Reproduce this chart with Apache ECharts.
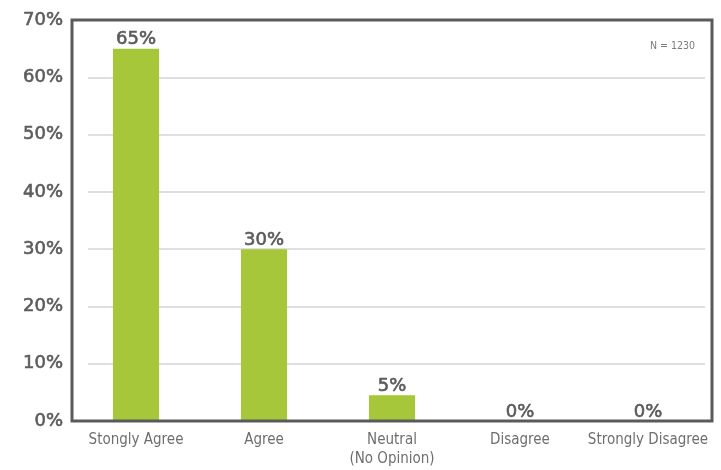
<!DOCTYPE html>
<html>
<head>
<meta charset="utf-8">
<script src="https://cdn.jsdelivr.net/npm/echarts@6/dist/echarts.min.js"></script>
<style>
html,body{margin:0;padding:0;background:#fff;}
#chart{width:721px;height:470px;}
</style>
</head>
<body>
<div id="chart"></div>
<script>
var categories = ['Stongly Agree', 'Agree', 'Neutral\n(No Opinion)', 'Disagree', 'Strongly Disagree'];
var values = [65, 30, 4.5, 0, 0];
var yTicks = [0, 10, 20, 30, 40, 50, 60, 70];
var noteText = 'N = 1230';

var FONT = '"DejaVu Sans", sans-serif';
var CFONT = '"DejaVu Sans Condensed", "DejaVu Sans", sans-serif';
var chart = echarts.init(document.getElementById('chart'));
chart.setOption({
  animation: false,
  backgroundColor: '#ffffff',
  textStyle: { fontFamily: FONT },
  title: {
    text: noteText,
    right: 21,
    top: 36,
    textStyle: { fontSize: 10.5, fontWeight: 'normal', color: '#7a7a7a', fontFamily: CFONT }
  },
  grid: [
    { left: 72, right: 9, top: 20, bottom: 49, show: true, borderColor: '#5a5a5a', borderWidth: 3, backgroundColor: 'transparent', z: 3 },
    { left: 88, right: 16, top: 20, bottom: 49, show: false }
  ],
  xAxis: [
    {
      type: 'category', gridIndex: 0, data: categories,
      axisLine: { show: false }, axisTick: { show: false },
      axisLabel: { interval: 0, color: '#6e6e6e', fontSize: 15, margin: 10, lineHeight: 19, fontFamily: CFONT }
    },
    { type: 'category', gridIndex: 1, data: categories, show: false }
  ],
  yAxis: [
    {
      type: 'value', gridIndex: 0, min: yTicks[0], max: yTicks[yTicks.length - 1], interval: 10,
      axisLine: { show: false }, axisTick: { show: false }, splitLine: { show: false },
      axisLabel: { color: '#5c5c5c', fontSize: 18, margin: 9, fontFamily: FONT,
        textBorderColor: '#5c5c5c', textBorderWidth: 0.6, formatter: '{value}%' }
    },
    {
      type: 'value', gridIndex: 1, min: yTicks[0], max: yTicks[yTicks.length - 1], interval: 10,
      axisLine: { show: false }, axisTick: { show: false }, axisLabel: { show: false },
      splitLine: { show: true, lineStyle: { color: '#d4d4d4', width: 1.5 } }
    }
  ],
  series: [
    {
      type: 'bar', xAxisIndex: 0, yAxisIndex: 0, data: values,
      barWidth: '36%', z: 2,
      itemStyle: { color: '#a5c739' },
      label: {
        show: true, position: 'top', distance: 0, color: '#5a5a5a', fontSize: 18, fontFamily: FONT,
        textBorderColor: '#5a5a5a', textBorderWidth: 0.6,
        formatter: function (p) { return Math.round(p.value) + '%'; }
      }
    }
  ]
});
</script>
</body>
</html>
